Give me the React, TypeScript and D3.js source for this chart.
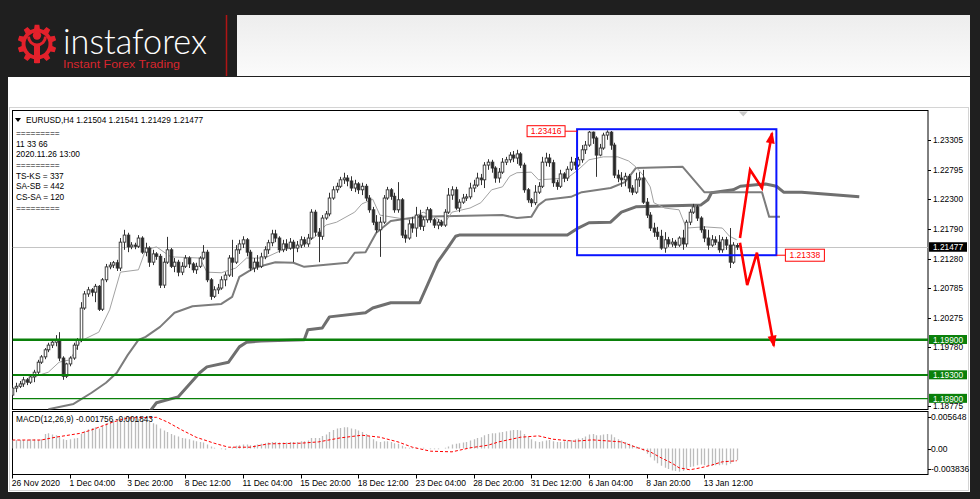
import React from "react";
import * as d3 from "d3";

// ---------------- DATA ----------------
const timeLabels = ["26 Nov 2020", "1 Dec 04:00", "3 Dec 20:00", "8 Dec 12:00", "11 Dec 04:00", "15 Dec 20:00", "18 Dec 12:00", "23 Dec 04:00", "28 Dec 20:00", "31 Dec 12:00", "6 Jan 04:00", "8 Jan 20:00", "13 Jan 12:00"];
const timeLabelIdx = [0, 16, 32, 48, 64, 80, 96, 112, 128, 144, 160, 176, 192];

const opens = [1.1896,1.1908,1.1911,1.1915,1.1922,1.1918,1.1927,1.1935,1.1952,1.1961,
1.1973,1.1981,1.1986,1.1990,1.1959,1.1928,1.1949,1.1959,1.1981,1.1990,
1.2044,1.2068,1.2075,1.2071,1.2081,1.2042,1.2092,1.2114,1.2117,1.2121,
1.2112,1.2156,1.2168,1.2148,1.2151,1.2149,1.2163,1.2139,1.2146,1.2122,
1.2136,1.2132,1.2083,1.2122,1.2143,1.2115,1.2122,1.2105,1.2115,1.2129,
1.2119,1.2109,1.2115,1.2129,1.2139,1.2092,1.2064,1.2075,1.2078,1.2092,
1.2100,1.2129,1.2122,1.2143,1.2153,1.2160,1.2139,1.2112,1.2122,1.2115,
1.2131,1.2143,1.2155,1.2170,1.2163,1.2143,1.2153,1.2146,1.2156,1.2146,
1.2151,1.2160,1.2153,1.2163,1.2207,1.2173,1.2166,1.2197,1.2204,1.2231,
1.2245,1.2251,1.2262,1.2265,1.2260,1.2248,1.2255,1.2245,1.2251,1.2231,
1.2211,1.2190,1.2177,1.2190,1.2231,1.2245,1.2234,1.2211,1.2228,1.2168,
1.2163,1.2187,1.2180,1.2202,1.2183,1.2194,1.2211,1.2194,1.2185,1.2190,
1.2185,1.2207,1.2236,1.2245,1.2214,1.2224,1.2231,1.2233,1.2248,1.2253,
1.2265,1.2262,1.2287,1.2292,1.2282,1.2265,1.2275,1.2292,1.2296,1.2304,
1.2299,1.2306,1.2287,1.2245,1.2228,1.2223,1.2241,1.2251,1.2292,1.2299,
1.2291,1.2257,1.2251,1.2272,1.2265,1.2280,1.2292,1.2287,1.2296,1.2313,
1.2321,1.2343,1.2333,1.2304,1.2316,1.2338,1.2343,1.2321,1.2270,1.2265,
1.2262,1.2268,1.2248,1.2241,1.2262,1.2265,1.2224,1.2202,1.2180,1.2173,
1.2166,1.2146,1.2160,1.2153,1.2156,1.2151,1.2163,1.2153,1.2190,1.2207,
1.2216,1.2197,1.2177,1.2163,1.2151,1.2160,1.2156,1.2143,1.2160,1.2151,
1.2122,1.21504];

const highs = [1.1913,1.1917,1.1920,1.1927,1.1925,1.1930,1.1939,1.1956,1.1964,1.1976,
1.1985,1.1990,1.1998,1.2003,1.1962,1.1951,1.1962,1.1985,1.1993,1.2054,
1.2073,1.2080,1.2078,1.2085,1.2083,1.2095,1.2119,1.2122,1.2124,1.2126,
1.2163,1.2177,1.2172,1.2156,1.2155,1.2168,1.2166,1.2155,1.2149,1.2143,
1.2139,1.2136,1.2129,1.2165,1.2146,1.2129,1.2126,1.2122,1.2134,1.2132,
1.2122,1.2121,1.2132,1.2151,1.2143,1.2095,1.2081,1.2085,1.2098,1.2105,
1.2134,1.2160,1.2151,1.2160,1.2166,1.2163,1.2143,1.2129,1.2134,1.2138,
1.2149,1.2160,1.2177,1.2177,1.2166,1.2160,1.2161,1.2163,1.2160,1.2158,
1.2166,1.2165,1.2170,1.2212,1.2211,1.2180,1.2202,1.2209,1.2240,1.2251,
1.2257,1.2267,1.2274,1.2270,1.2268,1.2262,1.2258,1.2257,1.2255,1.2236,
1.2216,1.2202,1.2199,1.2236,1.2250,1.2248,1.2240,1.2258,1.2231,1.2177,
1.2194,1.2199,1.2216,1.2211,1.2199,1.2216,1.2214,1.2197,1.2195,1.2194,
1.2212,1.2248,1.2251,1.2250,1.2229,1.2238,1.2238,1.2257,1.2262,1.2274,
1.2272,1.2292,1.2297,1.2296,1.2285,1.2282,1.2299,1.2301,1.2309,1.2311,
1.2313,1.2309,1.2291,1.2248,1.2231,1.2253,1.2258,1.2301,1.2308,1.2306,
1.2296,1.2262,1.2279,1.2275,1.2285,1.2301,1.2299,1.2301,1.2321,1.2328,
1.2345,1.2344,1.2336,1.2323,1.2342,1.2346,1.2345,1.2325,1.2279,1.2275,
1.2274,1.2272,1.2253,1.2274,1.2275,1.2279,1.2231,1.2207,1.2189,1.2182,
1.2177,1.2173,1.2165,1.2163,1.2160,1.2166,1.2177,1.2194,1.2212,1.2221,
1.2219,1.2200,1.2183,1.2177,1.2168,1.2166,1.2168,1.2165,1.2165,1.2180,
1.2156,1.21541];

const lows = [1.1891,1.1901,1.1908,1.1910,1.1913,1.1915,1.1918,1.1932,1.1949,1.1957,
1.1969,1.1976,1.1979,1.1954,1.1922,1.1925,1.1945,1.1956,1.1973,1.1986,
1.2041,1.2063,1.2064,1.2054,1.2039,1.2039,1.2088,1.2110,1.2112,1.2107,
1.2107,1.2143,1.2139,1.2144,1.2144,1.2146,1.2136,1.2132,1.2114,1.2117,
1.2126,1.2078,1.2078,1.2119,1.2112,1.2105,1.2098,1.2100,1.2112,1.2112,
1.2104,1.2102,1.2112,1.2126,1.2088,1.2058,1.2061,1.2068,1.2075,1.2081,
1.2097,1.2097,1.2119,1.2136,1.2146,1.2132,1.2107,1.2105,1.2109,1.2112,
1.2127,1.2136,1.2149,1.2156,1.2138,1.2139,1.2141,1.2143,1.2122,1.2139,
1.2146,1.2148,1.2148,1.2160,1.2166,1.2122,1.2160,1.2194,1.2200,1.2228,
1.2240,1.2248,1.2255,1.2251,1.2243,1.2241,1.2238,1.2236,1.2226,1.2206,
1.2185,1.2172,1.2131,1.2187,1.2228,1.2228,1.2206,1.2206,1.2163,1.2155,
1.2160,1.2172,1.2165,1.2177,1.2175,1.2189,1.2189,1.2180,1.2178,1.2182,
1.2182,1.2204,1.2228,1.2211,1.2207,1.2221,1.2226,1.2229,1.2241,1.2250,
1.2253,1.2248,1.2279,1.2274,1.2257,1.2257,1.2272,1.2287,1.2291,1.2292,
1.2289,1.2282,1.2240,1.2223,1.2216,1.2219,1.2238,1.2248,1.2285,1.2284,
1.2250,1.2245,1.2248,1.2258,1.2260,1.2277,1.2279,1.2284,1.2291,1.2306,
1.2318,1.2323,1.2267,1.2302,1.2313,1.2330,1.2313,1.2265,1.2258,1.2250,
1.2251,1.2241,1.2236,1.2238,1.2250,1.2221,1.2197,1.2175,1.2165,1.2160,
1.2143,1.2138,1.2148,1.2148,1.2146,1.2148,1.2143,1.2148,1.2185,1.2204,
1.2192,1.2172,1.2156,1.2143,1.2148,1.2151,1.2138,1.2138,1.2143,1.2112,
1.2119,1.21429];

const closes = [1.1908,1.1911,1.1915,1.1922,1.1918,1.1927,1.1935,1.1952,1.1961,1.1973,
1.1981,1.1986,1.1990,1.1959,1.1928,1.1949,1.1959,1.1981,1.1990,1.2044,
1.2068,1.2075,1.2071,1.2081,1.2042,1.2092,1.2114,1.2117,1.2121,1.2112,
1.2156,1.2168,1.2148,1.2151,1.2149,1.2163,1.2139,1.2146,1.2122,1.2136,
1.2132,1.2083,1.2122,1.2143,1.2115,1.2122,1.2105,1.2115,1.2129,1.2119,
1.2109,1.2115,1.2129,1.2139,1.2092,1.2064,1.2075,1.2078,1.2092,1.2100,
1.2129,1.2122,1.2143,1.2153,1.2160,1.2139,1.2112,1.2122,1.2115,1.2131,
1.2143,1.2155,1.2170,1.2163,1.2143,1.2153,1.2146,1.2156,1.2146,1.2151,
1.2160,1.2153,1.2163,1.2207,1.2173,1.2166,1.2197,1.2204,1.2231,1.2245,
1.2251,1.2262,1.2265,1.2260,1.2248,1.2255,1.2245,1.2251,1.2231,1.2211,
1.2190,1.2177,1.2190,1.2231,1.2245,1.2234,1.2211,1.2228,1.2168,1.2163,
1.2187,1.2180,1.2202,1.2183,1.2194,1.2211,1.2194,1.2185,1.2190,1.2185,
1.2207,1.2236,1.2245,1.2214,1.2224,1.2231,1.2233,1.2248,1.2253,1.2265,
1.2262,1.2287,1.2292,1.2282,1.2265,1.2275,1.2292,1.2296,1.2304,1.2299,
1.2306,1.2287,1.2245,1.2228,1.2223,1.2241,1.2251,1.2292,1.2299,1.2291,
1.2257,1.2251,1.2272,1.2265,1.2280,1.2292,1.2287,1.2296,1.2313,1.2321,
1.2343,1.2333,1.2304,1.2316,1.2338,1.2343,1.2321,1.2270,1.2265,1.2262,
1.2268,1.2248,1.2241,1.2262,1.2265,1.2224,1.2202,1.2180,1.2173,1.2166,
1.2146,1.2160,1.2153,1.2156,1.2151,1.2163,1.2153,1.2190,1.2207,1.2216,
1.2197,1.2177,1.2163,1.2151,1.2160,1.2156,1.2143,1.2160,1.2151,1.2122,
1.2151,1.21477];

// Ichimoku lines: [bar index, price]
const tenkan: [number, number][] = [[0,1.1905],[5,1.1925],[10,1.1935],[13,1.1952],[16,1.1956],[19,1.1988],[24,1.2003],[27,1.2041],[30,1.2105],[35,1.2109],[37,1.2143],[40,1.2148],[44,1.2131],[52,1.2129],[54,1.2105],[58,1.2104],[62,1.2112],[65,1.2129],[70,1.2129],[75,1.2143],[80,1.2149],[84,1.2165],[87,1.2185],[90,1.2190],[95,1.2207],[97,1.2221],[100,1.2229],[102,1.2202],[110,1.2194],[114,1.2207],[117,1.2199],[120,1.2189],[122,1.2207],[127,1.2214],[130,1.2223],[133,1.2245],[136,1.2250],[138,1.2268],[140,1.2274],[144,1.2275],[146,1.2262],[154,1.2265],[157,1.2279],[160,1.2296],[164,1.2301],[168,1.2301],[171,1.2294],[173,1.2284],[175,1.2270],[177,1.2250],[178,1.2223],[181,1.2214],[185,1.2211],[187,1.2180],[192,1.2182],[197,1.2180],[199,1.2166],[201,1.2160]];
const kijun: [number, number][] = [[10,1.1872],[17,1.1881],[22,1.1900],[26,1.1917],[29,1.1934],[32,1.1964],[35,1.1990],[37,1.1995],[41,1.2012],[45,1.2036],[50,1.2047],[58,1.2051],[61,1.2063],[63,1.2097],[67,1.2112],[73,1.2122],[78,1.2121],[81,1.2114],[93,1.2121],[95,1.2138],[98,1.2139],[101,1.2172],[105,1.2192],[113,1.2199],[136,1.2202],[140,1.2197],[144,1.2199],[146,1.2219],[148,1.2228],[155,1.2233],[158,1.2241],[166,1.2248],[170,1.2258],[173,1.2282],[186,1.2284],[192,1.2241],[208,1.2241],[210,1.2199],[213,1.2199]];
const senkou: [number, number][] = [[38,1.1867],[40,1.1883],[46,1.1893],[52,1.1934],[54,1.1944],[60,1.1952],[63,1.1978],[65,1.1986],[69,1.1988],[81,1.1990],[82,1.2007],[86,1.2010],[88,1.2029],[98,1.2036],[100,1.2044],[105,1.2053],[113,1.2053],[118,1.2122],[121,1.2148],[123,1.2166],[124,1.2168],[154,1.2168],[157,1.2180],[160,1.2189],[166,1.2190],[169,1.2207],[173,1.2216],[191,1.2219],[193,1.2228],[194,1.2240],[200,1.2245],[202,1.2251],[209,1.2255],[212,1.2251],[214,1.2241],[219,1.2241],[235,1.2233]];

const macdMain = [0.0013,0.0013,0.0013,0.0013,0.0013,0.0014,0.0014,0.0013,0.0014,
0.0022,0.0023,0.0021,0.0020,
0.0017,0.0014,0.0013,0.0014,0.0015,0.0016,
0.0022,0.0026,0.0029,0.0031,0.0032,
0.0030,0.0034,0.0038,0.0040,
0.0042,0.0043,0.0046,0.0048,0.0047,0.0046,0.0045,0.0045,0.0043,0.0042,0.0040,0.0038,
0.0036,0.0030,0.0027,0.0025,0.0022,
0.0020,0.0018,0.0016,0.0015,0.0014,0.0012,0.0011,0.0010,
0.0009,0.0006,0.0003,0.0001,0.0000,
-0.0001,-0.0002,0.0000,0.0002,
0.0004,0.0005,0.0006,0.0006,0.0005,0.0005,
0.0006,0.0007,0.0008,0.0009,0.0010,0.0010,0.0009,0.0009,0.0009,0.0010,0.0010,0.0010,0.0011,0.0011,0.0012,0.0016,0.0016,0.0016,0.0019,0.0021,
0.0025,0.0028,0.0030,0.0031,0.0032,0.0032,0.0030,0.0029,0.0027,0.0025,0.0022,0.0018,0.0014,
0.0011,0.0010,0.0011,0.0011,0.0010,0.0008,0.0007,0.0004,
0.0002,0.0001,0.0001,0.0001,0.0000,0.0001,0.0000,-0.0001,-0.0001,-0.0001,0.0000,0.0001,0.0003,
0.0006,0.0007,0.0008,0.0009,0.0010,0.0012,0.0014,0.0016,0.0017,0.0020,
0.0022,0.0023,0.0023,0.0024,0.0025,0.0026,0.0027,0.0028,0.0028,0.0027,0.0022,0.0018,
0.0014,0.0011,0.0010,0.0011,0.0012,
0.0013,0.0011,0.0010,0.0010,0.0011,0.0012,0.0013,0.0014,0.0015,0.0016,0.0018,0.0021,0.0022,
0.0020,0.0020,0.0021,0.0022,0.0021,0.0017,0.0014,0.0012,0.0010,0.0007,0.0005,
0.0003,0.0002,-0.0003,-0.0008,
-0.0013,-0.0018,-0.0022,-0.0026,-0.0029,-0.0031,-0.0033,-0.0034,
-0.0035,-0.0034,-0.0031,-0.0028,-0.0027,-0.0025,-0.0024,-0.0025,
-0.0026,-0.0026,-0.0025,-0.0025,-0.0024,-0.0025,-0.0023,-0.0020,-0.001756];

const macdSignal: [number, number][] = [[0,0.00128],[8,0.00128],[12,0.0017],[19,0.0023],[22,0.0028],[28,0.0040],[32,0.0046],[40,0.0047],[43,0.0040],[47,0.0028],[51,0.0017],[56,0.0008],[60,0.0002],[66,0.0002],[71,0.0007],[80,0.0008],[85,0.0010],[91,0.0016],[97,0.0020],[102,0.0017],[107,0.0010],[111,0.0002],[116,-0.0004],[122,-0.0005],[127,0.0001],[132,0.0005],[135,0.0010],[141,0.0017],[146,0.0019],[150,0.0014],[156,0.0011],[161,0.0013],[169,0.0010],[173,0.0002],[177,-0.0005],[180,-0.0014],[183,-0.0022],[185,-0.0029],[188,-0.0032],[191,-0.0029],[194,-0.0025],[197,-0.0020],[201,-0.001843]];

const priceTicks = [1.23305, 1.22795, 1.22300, 1.21790, 1.21280, 1.20785, 1.20275, 1.19780, 1.18775];
const macdTicks = [0.005648, 0.0, -0.003836];
const macdTickLabels = ["0.005648", "0.00", "-0.003836"];
const greenLevels = [1.19900, 1.19300, 1.18900];
const currentPrice = 1.21477;

const boxRange = { i0: 156.7, i1: 212, top: 1.2348, bottom: 1.21338 };
const boxLabels = ["1.23416", "1.21338"];
const upArrow: [number, number][] = [[201.9, 1.2163], [204.7, 1.2279], [208, 1.2248], [210.8, 1.2341]];
const downArrow: [number, number][] = [[201.9, 1.2155], [203.9, 1.2083], [206.6, 1.2138], [211.3, 1.1980]];

const headerLines = ["=========", "11 33 66", "2020.11.26 13:00", "=========", "TS-KS = 337", "SA-SB = 442", "CS-SA = 120", "========="];
const headerTitle = "EURUSD,H4  1.21504 1.21541 1.21429 1.21477";
const macdTitle = "MACD(12,26,9) -0.001756 -0.001843";

// ---------------- DRAWING ----------------
const FONT = "'Liberation Sans', Arial, sans-serif";
const L = 12.5, R = 928, MT = 110.5, MB = 409.5, ST = 411.5, SB = 474.5;

function arrowHead(pts: [number, number][]) {
  const [x1, y1] = pts[pts.length - 2];
  const [x2, y2] = pts[pts.length - 1];
  const dx = x2 - x1, dy = y2 - y1;
  const len = Math.hypot(dx, dy);
  const ux = dx / len, uy = dy / len;
  const bx = x2 - ux * 10, by = y2 - uy * 10;
  const px = -uy * 4.5, py = ux * 4.5;
  return `M${x2 + ux * 2},${y2 + uy * 2}L${bx + px},${by + py}L${bx - px},${by - py}Z`;
}

const gearPath = (() => {
  const cx = 37, cy = 44, ro = 19.5, ri = 15.5, n = 10;
  const pts: [number, number][] = [];
  for (let k = 0; k < n; k++) {
    const a = (k / n) * Math.PI * 2 - Math.PI / 2;
    const w = Math.PI / n;
    pts.push([a - w * 0.6, ri], [a - w * 0.38, ro], [a + w * 0.38, ro], [a + w * 0.6, ri]);
  }
  return "M" + pts.map(([a, r]) => `${cx + r * Math.cos(a)},${cy + r * Math.sin(a)}`).join("L") + "Z";
})();

export default function App() {
  const x = d3.scaleLinear().domain([0, 192]).range([12.3, 704.3]);
  const y = d3.scaleLinear().domain([1.18775, 1.23305]).range([406, 139.5]);
  const ym = d3.scaleLinear().domain([-0.003836, 0.005648]).range([474, 411]);
  const priceLine = d3.line<[number, number]>().x(d => x(d[0])).y(d => y(d[1]));
  const macdLine = d3.line<[number, number]>().x(d => x(d[0])).y(d => ym(d[1]));
  const pxLine = d3.line<[number, number]>();

  const upPx = upArrow.map(([i, p]) => [x(i), y(p)] as [number, number]);
  const dnPx = downArrow.map(([i, p]) => [x(i), y(p)] as [number, number]);
  const bx0 = x(boxRange.i0), bx1 = x(boxRange.i1), by0 = y(boxRange.top), by1 = y(boxRange.bottom);
  const levelWidth = [2.6, 2, 1.3];
  const zeroY = ym(0);

  return (
    <svg width={980} height={499} style={{ position: "absolute", left: 0, top: 0, display: "block" }} fontFamily={FONT}>
      <defs>
        <clipPath id="mainClip"><rect x={L} y={MT} width={R - L} height={MB - MT} /></clipPath>
        <clipPath id="subClip"><rect x={L} y={ST} width={R - L} height={SB - ST} /></clipPath>
        <linearGradient id="topGrad" x1="0" y1="0" x2="0" y2="1">
          <stop offset="0" stopColor="#ededed" />
          <stop offset="1" stopColor="#fbfbfb" />
        </linearGradient>
      </defs>
      {/* chrome */}
      <rect x={0} y={0} width={980} height={499} fill="#1f1f1f" />
      <rect x={237} y={15} width={733} height={61} fill="url(#topGrad)" />
      <line x1={226.5} x2={226.5} y1={15} y2={76} stroke="#b01515" strokeWidth={1.5} />
      <rect x={8} y={77} width={962} height={415} fill="#ffffff" />
      <rect x={9.5} y={107.5} width={959} height={383} fill="none" stroke="#d4d4d4" />

      {/* logo */}
      <path d={gearPath} fill="#e3212b" />
      <circle cx={37} cy={44} r={11.5} fill="#1f1f1f" />
      <path d="M28.5,36.5 A8.5,8.5 0 0 0 45.5,36.5" fill="none" stroke="#e3212b" strokeWidth={3} />
      <circle cx={37} cy={35.5} r={4.2} fill="#e3212b" />
      <rect x={34} y={44} width={6} height={19} fill="#e3212b" />
      <text x={63} y={54} fontSize={35} fontWeight={300} fill="#ffffff" fontFamily="Lato, 'Open Sans', sans-serif" textLength={144} lengthAdjust="spacingAndGlyphs">instaforex</text>
      <text x={63} y={67.5} fontSize={11.5} fill="#d8262e" fontFamily={FONT} textLength={117} lengthAdjust="spacingAndGlyphs">Instant Forex Trading</text>

      {/* frames */}
      <rect x={L} y={MT} width={R - L} height={MB - MT} fill="#fff" stroke="#000" strokeWidth={1} />
      <rect x={L} y={ST} width={R - L} height={SB - ST} fill="#fff" stroke="#000" strokeWidth={1} />

      {/* main panel */}
      <g clipPath="url(#mainClip)">
        <line x1={L} x2={R} y1={Math.round(y(currentPrice)) + 0.5} y2={Math.round(y(currentPrice)) + 0.5} stroke="#c4c4c4" />
        <path d={priceLine(senkou) || ""} fill="none" stroke="#6f6f6f" strokeWidth={3} strokeLinejoin="round" />
        <path d={priceLine(kijun) || ""} fill="none" stroke="#7c7c7c" strokeWidth={2} strokeLinejoin="round" />
        <path d={priceLine(tenkan) || ""} fill="none" stroke="#a2a2a2" strokeWidth={1} />
        {opens.map((o, i) => {
          const cx = Math.round(x(i)) + 0.5;
          const c = closes[i];
          const up = c >= o;
          const yT = y(Math.max(o, c)), yB = y(Math.min(o, c));
          return (
            <g key={i}>
              <line x1={cx} x2={cx} y1={y(highs[i])} y2={y(lows[i])} stroke="#333333" strokeWidth={1} />
              <rect x={cx - 1.3} y={yT} width={2.6} height={Math.max(0.8, yB - yT)} fill={up ? "#ffffff" : "#262626"} stroke="#333333" strokeWidth={0.9} />
            </g>
          );
        })}
        {greenLevels.map((p, k) => (
          <line key={k} x1={L} x2={R} y1={y(p)} y2={y(p)} stroke="#0a800a" strokeWidth={levelWidth[k]} />
        ))}
        <rect x={bx0} y={by0} width={bx1 - bx0} height={by1 - by0} fill="none" stroke="#0a14ff" strokeWidth={2} />
        <path d={pxLine(upPx) || ""} fill="none" stroke="#ff0000" strokeWidth={2.6} strokeLinejoin="miter" />
        <path d={arrowHead(upPx)} fill="#ff0000" />
        <path d={pxLine(dnPx) || ""} fill="none" stroke="#ff0000" strokeWidth={2.6} strokeLinejoin="miter" />
        <path d={arrowHead(dnPx)} fill="#ff0000" />
        {/* box labels */}
        <line x1={bx0 - 12} x2={bx0} y1={by0 + 2} y2={by0 + 2} stroke="#ff0000" strokeWidth={1} />
        <rect x={bx0 - 50} y={by0 - 3.5} width={38} height={11} fill="#fff" stroke="#ff0000" strokeWidth={1} />
        <text x={bx0 - 31} y={by0 + 2} dy="0.35em" fontSize={8.5} fill="#ff0000" textAnchor="middle">{boxLabels[0]}</text>
        <line x1={bx1} x2={bx1 + 9} y1={by1} y2={by1} stroke="#ff0000" strokeWidth={1} />
        <rect x={bx1 + 9} y={by1 - 6} width={39} height={12} fill="#fff" stroke="#ff0000" strokeWidth={1} />
        <text x={bx1 + 28.5} y={by1} dy="0.35em" fontSize={8.5} fill="#ff0000" textAnchor="middle">{boxLabels[1]}</text>
        {/* shift marker */}
        <path d={`M${x(201) + 2},${MT + 1}L${x(201) + 11},${MT + 1}L${x(201) + 6.5},${MT + 6}Z`} fill="#c8c8c8" />
      </g>

      {/* header texts */}
      <path d="M15,118 L21,118 L18,122 Z" fill="#000" />
      <text x={26} y={120} dy="0.35em" fontSize={8.3} fill="#000">{headerTitle}</text>
      {headerLines.map((t, k) => (
        <text key={k} x={16} y={133 + k * 10.7} dy="0.35em" fontSize={8.3} fill="#000">{t}</text>
      ))}

      {/* price axis */}
      {priceTicks.map((p, k) => (
        <g key={k}>
          <line x1={R} x2={R + 3} y1={Math.round(y(p)) + 0.5} y2={Math.round(y(p)) + 0.5} stroke="#000" />
          <text x={933} y={y(p) + 0.5} dy="0.35em" fontSize={8.3} fill="#000">{p.toFixed(5)}</text>
        </g>
      ))}
      {greenLevels.map((p, k) => (
        <g key={k}>
          <rect x={929} y={y(p) - 4.8} width={38} height={9} fill="#0a800a" />
          <text x={933} y={y(p)} dy="0.35em" fontSize={8.3} fill="#fff">{p.toFixed(5)}</text>
        </g>
      ))}
      <rect x={929} y={y(currentPrice) - 4.8} width={38} height={9.5} fill="#000" />
      <text x={933} y={y(currentPrice)} dy="0.35em" fontSize={8.3} fill="#fff">{currentPrice.toFixed(5)}</text>

      {/* MACD panel */}
      <g clipPath="url(#subClip)">
        {macdMain.map((v, i) => (
          <line key={i} x1={Math.round(x(i)) + 0.5} x2={Math.round(x(i)) + 0.5} y1={zeroY} y2={ym(v)} stroke="#bcbcbc" strokeWidth={1.3} />
        ))}
        <path d={macdLine(macdSignal) || ""} fill="none" stroke="#ff0000" strokeWidth={1} strokeDasharray="3,2" />
      </g>
      <text x={16} y={419} dy="0.35em" fontSize={8.3} fill="#000">{macdTitle}</text>
      {macdTicks.map((v, k) => {
        const ty = k === 0 ? ST + 6 : k === 2 ? SB - 5 : ym(v) + 1;
        return (
          <g key={k}>
            <line x1={R} x2={R + 3} y1={ty} y2={ty} stroke="#000" />
            <text x={931} y={ty} dy="0.35em" fontSize={8.5} fill="#000">{macdTickLabels[k]}</text>
          </g>
        );
      })}

      {/* time axis */}
      {timeLabelIdx.map((idx, k) => (
        <g key={k}>
          <line x1={Math.round(x(idx)) + 0.5} x2={Math.round(x(idx)) + 0.5} y1={SB} y2={SB + 4} stroke="#000" />
          <text x={x(idx) - 0.5} y={486} fontSize={8.5} fill="#000">{timeLabels[k]}</text>
        </g>
      ))}
    </svg>
  );
}
